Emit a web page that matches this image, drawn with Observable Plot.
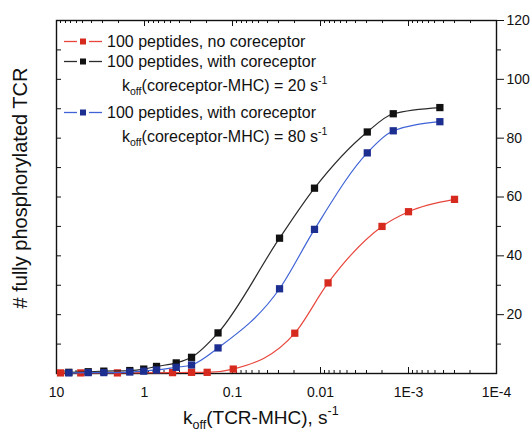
<!DOCTYPE html>
<html>
<head>
<meta charset="utf-8">
<script src="https://cdn.jsdelivr.net/npm/d3@7"></script>
<script src="https://cdn.jsdelivr.net/npm/@observablehq/plot@0.6"></script>
<style>
  body { margin: 0; background: #fff; }
  #chart svg { font-family: "Liberation Sans", Arial, sans-serif; }
</style>
</head>
<body>
<div id="chart"></div>
<script>
// k_off(TCR-MHC) in s^-1, ordered from fast to slow dissociation
const koffNoCo = [9.0, 5.3, 2.03, 0.48, 0.292, 0.194, 0.098, 0.0196, 0.0082, 0.002, 0.001, 0.0003];
const tcrNoCo = [0.2, 0.2, 0.2, 0.3, 0.4, 0.4, 1.5, 13.7, 30.8, 50.0, 55.0, 59.2];

const koffCo = [7.25, 4.36, 2.9, 1.47, 1.02, 0.73, 0.436, 0.292, 0.146, 0.0292, 0.0117, 0.00294, 0.00149, 0.00044];
const tcrCo20 = [0.4, 0.6, 0.8, 1.0, 1.5, 2.4, 3.6, 5.5, 13.8, 46.0, 63.0, 82.1, 88.3, 90.4];
const tcrCo80 = [0.2, 0.3, 0.3, 0.5, 0.8, 1.2, 2.1, 2.9, 8.7, 28.8, 49.0, 75.0, 82.5, 85.6];

// axis ticks
const xDecades = [10, 1, 0.1, 0.01, 0.001, 0.0001];
const xDecadeLabels = ["10", "1", "0.1", "0.01", "1E-3", "1E-4"];
const xMinorSteps = [2, 3, 4, 5, 6, 7, 8, 9];
const yMajor = [20, 40, 60, 80, 100, 120];
const yMinor = [10, 30, 50, 70, 90, 110];
const yAll = [10, 20, 30, 40, 50, 60, 70, 80, 90, 100, 110];

const series = [
  {key: "noco", koff: koffNoCo, tcr: tcrNoCo, line: "#e8473d", marker: "#d62a1f"},
  {key: "co20", koff: koffCo, tcr: tcrCo20, line: "#2b2b2b", marker: "#111111"},
  {key: "co80", koff: koffCo, tcr: tcrCo80, line: "#3f63d6", marker: "#1d2e91"}
];
const rowsOf = s => s.koff.map((k, i) => ({koff: k, tcr: s.tcr[i]}));

const xMinor = xDecades.slice(1).flatMap(d => xMinorSteps.map(m => d * m));
const xLabelMap = new Map(xDecades.map((d, i) => [d, xDecadeLabels[i]]));
const blank = () => "";
const ink = "#111";

const plot = Plot.plot({
  width: 531,
  height: 433,
  marginLeft: 56,
  marginRight: 35,
  marginTop: 20,
  marginBottom: 60,
  style: {fontFamily: "Liberation Sans, Arial, sans-serif", background: "#fff", color: ink},
  x: {type: "log", domain: [10, 1e-4]},
  y: {domain: [0, 120]},
  marks: [
    // inward ticks along the bottom edge (outward length, shifted back inside)
    Plot.axisX(xMinor, {anchor: "bottom", tickSize: 3, dy: -3, tickFormat: blank, label: null}),
    Plot.axisX(xDecades, {anchor: "bottom", tickSize: 6, dy: -6, tickFormat: blank, label: null}),
    Plot.axisX(xDecades, {anchor: "bottom", tickSize: 0, tickPadding: 14, fontSize: 14,
      tickFormat: d => xLabelMap.get(d), label: null}),
    // left edge: inward ticks; right edge: labelled outward ticks
    Plot.axisY(yAll, {anchor: "left", tickSize: 5, dx: 5, tickFormat: blank, label: null}),
    Plot.axisY(yMinor, {anchor: "right", tickSize: 4, tickFormat: blank, label: null}),
    Plot.axisY(yMajor, {anchor: "right", tickSize: 7, tickPadding: 3, fontSize: 14, label: null}),
    Plot.frame({strokeWidth: 1.4}),
    ...series.flatMap(s => [
      Plot.line(rowsOf(s), {x: "koff", y: "tcr", stroke: s.line, strokeWidth: 1.2, curve: "monotone-x"}),
      Plot.dot(rowsOf(s), {x: "koff", y: "tcr", symbol: "square", r: 4.1, fill: s.marker, stroke: "none"})
    ])
  ]
});

document.getElementById("chart").appendChild(plot);

const svg = d3.select(plot);

// inward ticks along the top edge, placed with the plot's own x scale
const xScale = plot.scale("x");
const yScale = plot.scale("y");
const topY = yScale.apply(120);
const topTicks = svg.append("g").attr("stroke", ink).attr("stroke-width", 1);
for (const [ticks, len] of [[xMinor, 3], [xDecades, 6]]) {
  for (const v of ticks) {
    const px = Math.round(xScale.apply(v)) + 0.5;
    topTicks.append("line").attr("x1", px).attr("x2", px).attr("y1", topY).attr("y2", topY + len);
  }
}

// rich text helper for subscripts / superscripts
function richText(parent, x, y, parts, size, anchor = "start") {
  const t = parent.append("text")
    .attr("x", x).attr("y", y)
    .attr("font-size", size)
    .attr("fill", ink)
    .attr("text-anchor", anchor);
  let shift = 0;
  for (const p of parts) {
    const target = p.sub ? size * 0.28 : p.sup ? -size * 0.45 : 0;
    t.append("tspan")
      .attr("dy", target - shift)
      .attr("font-size", p.sub || p.sup ? size * 0.66 : size)
      .text(p.t);
    shift = target;
  }
  return t;
}

// legend
const legend = svg.append("g");
const legendEntries = [
  {s: series[0], y: 47, text: [{t: "100 peptides, no coreceptor"}]},
  {s: series[1], y: 67, text: [{t: "100 peptides, with coreceptor"}]},
  {s: null, y: 91, text: [{t: "k"}, {t: "off", sub: true}, {t: "(coreceptor-MHC) = 20 s"}, {t: "-1", sup: true}]},
  {s: series[2], y: 118, text: [{t: "100 peptides, with coreceptor"}]},
  {s: null, y: 142, text: [{t: "k"}, {t: "off", sub: true}, {t: "(coreceptor-MHC) = 80 s"}, {t: "-1", sup: true}]}
];
for (const e of legendEntries) {
  if (e.s) {
    const cy = e.y - 5.5;
    legend.append("line").attr("x1", 64).attr("x2", 77).attr("y1", cy).attr("y2", cy)
      .attr("stroke", e.s.line).attr("stroke-width", 1.3);
    legend.append("line").attr("x1", 89).attr("x2", 102).attr("y1", cy).attr("y2", cy)
      .attr("stroke", e.s.line).attr("stroke-width", 1.3);
    legend.append("rect").attr("x", 80).attr("y", cy - 3).attr("width", 6).attr("height", 6)
      .attr("fill", e.s.marker);
    richText(legend, 107, e.y, e.text, 16);
  } else {
    richText(legend, 122, e.y, e.text, 16);
  }
}

// axis titles
richText(svg, 183, 424, [{t: "k"}, {t: "off", sub: true}, {t: "(TCR-MHC), s"}, {t: "-1", sup: true}], 19);
svg.append("text")
  .attr("transform", "translate(27,188) rotate(-90)")
  .attr("text-anchor", "middle")
  .attr("font-size", 20)
  .attr("fill", ink)
  .text("# fully phosphorylated TCR");
</script>
</body>
</html>
